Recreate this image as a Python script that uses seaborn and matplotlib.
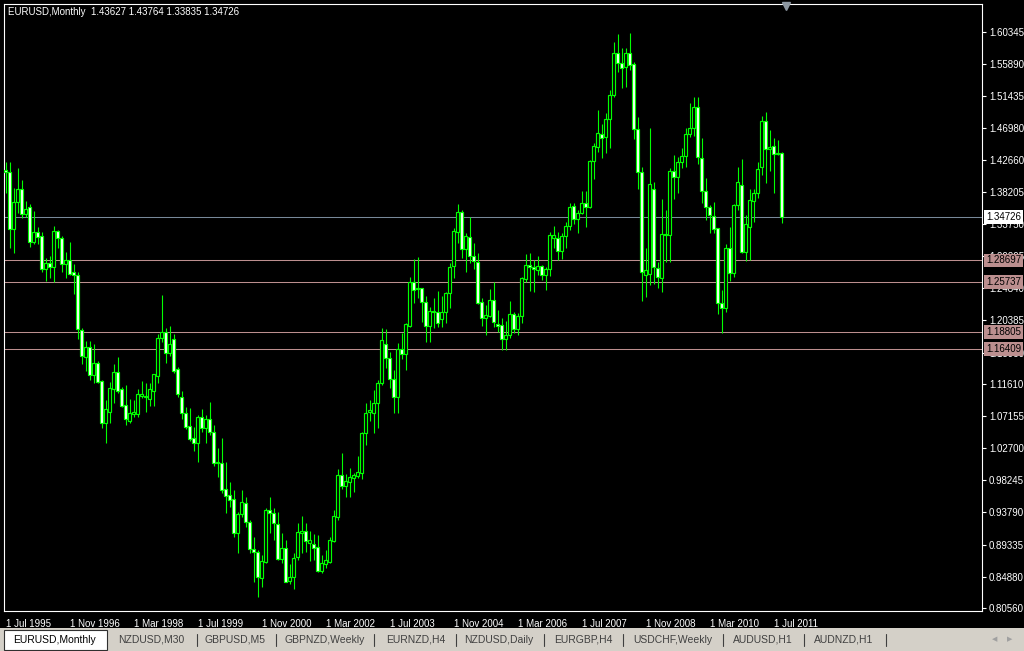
import numpy as np
import pandas as pd
import seaborn as sns
import matplotlib
matplotlib.use("Agg")
import matplotlib.pyplot as plt
from matplotlib.patches import Rectangle
from matplotlib.lines import Line2D

# EURUSD monthly candles, Jul 1995 .. Sep 2011
opens = [
    1.4124, 1.4096, 1.3310, 1.3680, 1.3856, 1.3510, 1.3607, 1.3122, 1.3261, 1.3205,
    1.2748, 1.2831, 1.2784, 1.3279, 1.3178, 1.2818, 1.2873, 1.2711, 1.2665, 1.1903,
    1.1538, 1.1668, 1.1284, 1.1446, 1.1197, 1.0615, 1.0776, 1.1090, 1.1322, 1.1086,
    1.0865, 1.0651, 1.0744, 1.0740, 1.0998, 1.0975, 1.0948, 1.1067, 1.1275, 1.1792,
    1.1884, 1.1585, 1.1779, 1.1363, 1.0975, 1.0754, 1.0574, 1.0407, 1.0346, 1.0699,
    1.0546, 1.0671, 1.0499, 1.0069, 1.0061, 0.9701, 0.9618, 0.9563, 0.9100, 0.9355,
    0.9507, 0.9252, 0.8870, 0.8829, 0.8468, 0.8698, 0.9414, 0.9369, 0.9221, 0.8732,
    0.8884, 0.8435, 0.8491, 0.8759, 0.9100, 0.9120, 0.8953, 0.8944, 0.8898, 0.8574,
    0.8667, 0.8698, 0.8985, 0.9313, 0.9899, 0.9747, 0.9807, 0.9853, 0.9890, 0.9931,
    1.0485, 1.0776, 1.0762, 1.0901, 1.1169, 1.1710, 1.1516, 1.1225, 1.0975, 1.1640,
    1.1571, 1.1967, 1.2577, 1.2471, 1.2485, 1.2300, 1.1967, 1.2175, 1.2161, 1.2056,
    1.2161, 1.2416, 1.2798, 1.3269, 1.3546, 1.3025, 1.3200, 1.2937, 1.2845, 1.2291,
    1.2070, 1.2106, 1.2319, 1.1996, 1.1977, 1.1779, 1.1838, 1.2125, 1.1917, 1.2106,
    1.2610, 1.2808, 1.2780, 1.2738, 1.2790, 1.2665, 1.2752, 1.3178, 1.3178, 1.3006,
    1.3205, 1.3348, 1.3625, 1.3441, 1.3524, 1.3662, 1.3607, 1.4248, 1.4446, 1.4622,
    1.4576, 1.4830, 1.5162, 1.5748, 1.5601, 1.5554, 1.5740, 1.5592, 1.4687, 1.4100,
    1.2669, 1.2683, 1.3856, 1.2762, 1.2624, 1.3237, 1.3223, 1.4110, 1.4022, 1.4230,
    1.4317, 1.4618, 1.4701, 1.4992, 1.4286, 1.3837, 1.3607, 1.3486, 1.3316, 1.2277,
    1.2208, 1.3048, 1.2693, 1.3633, 1.3918, 1.2983, 1.3338, 1.3697, 1.3806, 1.4165,
    1.4806, 1.4410, 1.4456, 1.4345, 1.43627,
]
highs = [
    1.4234, 1.4238, 1.3870, 1.4147, 1.3985, 1.3694, 1.3648, 1.3556, 1.3330, 1.3261,
    1.2909, 1.2932, 1.3348, 1.3293, 1.3209, 1.2988, 1.3126, 1.2822, 1.2711, 1.1939,
    1.1755, 1.1755, 1.1714, 1.1478, 1.1210, 1.0938, 1.1183, 1.1437, 1.1534, 1.1114,
    1.1146, 1.0952, 1.0938, 1.1095, 1.1201, 1.1169, 1.1169, 1.1300, 1.1848, 1.2392,
    1.1931, 1.1963, 1.1852, 1.1399, 1.1067, 1.0845, 1.0831, 1.0564, 1.0730, 1.0809,
    1.0730, 1.0906, 1.0592, 1.0269, 1.0408, 1.0084, 0.9807, 0.9692, 0.9380, 0.9692,
    0.9599, 0.9276, 0.9036, 0.8861, 0.8791, 0.9438, 0.9599, 0.9447, 0.9387, 0.9092,
    0.9001, 0.8667, 0.8823, 0.9230, 0.9331, 0.9230, 0.9128, 0.9082, 0.9069, 0.8791,
    0.8861, 0.9045, 0.9414, 0.9982, 1.0208, 0.9913, 0.9992, 0.9931, 1.0162, 1.0499,
    1.0901, 1.0938, 1.1077, 1.1215, 1.1931, 1.1917, 1.1607, 1.1354, 1.1732, 1.1862,
    1.2000, 1.2646, 1.2887, 1.2914, 1.2485, 1.2378, 1.2230, 1.2347, 1.2452, 1.2378,
    1.2438, 1.2831, 1.3316, 1.3653, 1.3570, 1.3247, 1.3477, 1.3117, 1.2978, 1.2347,
    1.2254, 1.2471, 1.2568, 1.2185, 1.2070, 1.2036, 1.2309, 1.2153, 1.2147, 1.2646,
    1.2960, 1.2970, 1.2877, 1.2932, 1.2808, 1.2784, 1.3269, 1.3348, 1.3269, 1.3247,
    1.3408, 1.3671, 1.3671, 1.3570, 1.3833, 1.3833, 1.4262, 1.4502, 1.4955, 1.4757,
    1.4917, 1.5232, 1.5896, 1.6007, 1.5809, 1.5817, 1.6025, 1.5623, 1.4862, 1.4169,
    1.3039, 1.4709, 1.3961, 1.2853, 1.3718, 1.3570, 1.4147, 1.4331, 1.4308, 1.4432,
    1.4701, 1.5047, 1.5130, 1.5130, 1.4563, 1.4009, 1.3639, 1.3685, 1.3324, 1.2462,
    1.3102, 1.3334, 1.3651, 1.4158, 1.4271, 1.3500, 1.3860, 1.3862, 1.4238, 1.4871,
    1.4927, 1.4677, 1.4562, 1.4539, 1.43764,
]
lows = [
    1.3805, 1.3047, 1.2978, 1.3532, 1.3455, 1.3477, 1.3061, 1.3099, 1.3099, 1.2715,
    1.2590, 1.2632, 1.2576, 1.3047, 1.2715, 1.2632, 1.2670, 1.2410, 1.1787, 1.1441,
    1.1340, 1.1215, 1.1169, 1.1178, 1.0555, 1.0338, 1.0615, 1.0901, 1.1039, 1.0845,
    1.0592, 1.0624, 1.0707, 1.0707, 1.0961, 1.0776, 1.0855, 1.0855, 1.1178, 1.1737,
    1.1446, 1.1552, 1.1316, 1.0984, 1.0671, 1.0532, 1.0374, 1.0236, 1.0084, 1.0499,
    1.0338, 1.0450, 1.0023, 0.9876, 0.9646, 0.9369, 0.9452, 0.9045, 0.8823, 0.9322,
    0.9183, 0.8823, 0.8421, 0.8214, 0.8352, 0.8685, 0.9100, 0.9001, 0.8722, 0.8685,
    0.8413, 0.8390, 0.8320, 0.8722, 0.8815, 0.8837, 0.8712, 0.8722, 0.8552, 0.8538,
    0.8607, 0.8676, 0.8976, 0.9276, 0.9701, 0.9599, 0.9590, 0.9668, 0.9853, 0.9844,
    1.0315, 1.0652, 1.0485, 1.0546, 1.1146, 1.1377, 1.1100, 1.0762, 1.0754, 1.1502,
    1.1354, 1.1953, 1.2286, 1.2347, 1.2022, 1.1745, 1.1745, 1.1939, 1.1945, 1.1953,
    1.2009, 1.2208, 1.2632, 1.3117, 1.2900, 1.2715, 1.2831, 1.2752, 1.2268, 1.1963,
    1.1838, 1.2092, 1.1953, 1.1884, 1.1631, 1.1631, 1.1792, 1.1862, 1.1838, 1.2009,
    1.2568, 1.2452, 1.2438, 1.2669, 1.2600, 1.2462, 1.2655, 1.3039, 1.2877, 1.2887,
    1.3039, 1.3293, 1.3376, 1.3247, 1.3510, 1.3338, 1.3593, 1.3995, 1.4377, 1.4294,
    1.4355, 1.4424, 1.5130, 1.5485, 1.5263, 1.5277, 1.5509, 1.4549, 1.3860, 1.2313,
    1.2369, 1.2531, 1.2545, 1.2485, 1.2438, 1.2853, 1.2853, 1.3722, 1.3809, 1.4155,
    1.4169, 1.4585, 1.4599, 1.4202, 1.3662, 1.3431, 1.3247, 1.3247, 1.2129, 1.1870,
    1.2152, 1.2588, 1.2645, 1.3574, 1.2969, 1.2860, 1.2870, 1.3407, 1.3732, 1.4054,
    1.3948, 1.4110, 1.3810, 1.4330, 1.33835,
]
closes = [
    1.4096, 1.3310, 1.3680, 1.3856, 1.3510, 1.3587, 1.3131, 1.3265, 1.3200, 1.2748,
    1.2831, 1.2784, 1.3275, 1.3178, 1.2818, 1.2873, 1.2687, 1.2673, 1.1926, 1.1552,
    1.1668, 1.1284, 1.1446, 1.1191, 1.0624, 1.0809, 1.1100, 1.1322, 1.1067, 1.0855,
    1.0671, 1.0754, 1.0772, 1.1017, 1.1017, 1.0998, 1.1086, 1.1294, 1.1792, 1.1884,
    1.1585, 1.1710, 1.1344, 1.1017, 1.0754, 1.0560, 1.0402, 1.0346, 1.0699, 1.0546,
    1.0671, 1.0499, 1.0069, 1.0079, 0.9692, 0.9613, 0.9557, 0.9100, 0.9355, 0.9521,
    0.9252, 0.8870, 0.8837, 0.8482, 0.8712, 0.9414, 0.9369, 0.9230, 0.8736, 0.8884,
    0.8422, 0.8482, 0.8746, 0.9114, 0.9120, 0.8989, 0.9001, 0.8884, 0.8574, 0.8685,
    0.8722, 0.8999, 0.9332, 0.9899, 0.9747, 0.9816, 0.9867, 0.9899, 0.9945, 1.0485,
    1.0754, 1.0799, 1.0901, 1.1169, 1.1765, 1.1516, 1.1225, 1.0975, 1.1640, 1.1571,
    1.1991, 1.2577, 1.2462, 1.2485, 1.2300, 1.1967, 1.2175, 1.2161, 1.2009, 1.2161,
    1.2416, 1.2776, 1.3279, 1.3538, 1.3025, 1.3209, 1.2937, 1.2863, 1.2286, 1.2070,
    1.2115, 1.2319, 1.2014, 1.1963, 1.1779, 1.1838, 1.2125, 1.1917, 1.2101, 1.2624,
    1.2808, 1.2776, 1.2752, 1.2794, 1.2665, 1.2752, 1.3219, 1.3219, 1.3006, 1.3205,
    1.3344, 1.3615, 1.3445, 1.3532, 1.3662, 1.3607, 1.4248, 1.4456, 1.4632, 1.4563,
    1.4830, 1.5162, 1.5748, 1.5601, 1.5532, 1.5740, 1.5578, 1.4687, 1.4100, 1.2715,
    1.2738, 1.3930, 1.2784, 1.2646, 1.3237, 1.3223, 1.4110, 1.4022, 1.4230, 1.4317,
    1.4618, 1.4701, 1.4992, 1.4308, 1.3837, 1.3607, 1.3500, 1.3302, 1.2277, 1.2208,
    1.3048, 1.2693, 1.3633, 1.3953, 1.2983, 1.3372, 1.3708, 1.3801, 1.4133, 1.4798,
    1.4410, 1.4446, 1.4345, 1.4363, 1.34726,
]

levels = [1.28697, 1.25737, 1.18805, 1.16409]
last_price = 1.34726
price_ticks = [1.60345, 1.55890, 1.51435, 1.46980, 1.42660, 1.38205, 1.33750,
               1.29295, 1.24840, 1.20385, 1.15930, 1.11610, 1.07155, 1.02700,
               0.98245, 0.93790, 0.89335, 0.84880, 0.80560]
date_labels = ["1 Jul 1995", "1 Nov 1996", "1 Mar 1998", "1 Jul 1999", "1 Nov 2000",
               "1 Mar 2002", "1 Jul 2003", "1 Nov 2004", "1 Mar 2006", "1 Jul 2007",
               "1 Nov 2008", "1 Mar 2010", "1 Jul 2011"]
tabs = ["EURUSD,Monthly", "NZDUSD,M30", "GBPUSD,M5", "GBPNZD,Weekly", "EURNZD,H4",
        "NZDUSD,Daily", "EURGBP,H4", "USDCHF,Weekly", "AUDUSD,H1", "AUDNZD,H1"]
title = "EURUSD,Monthly  1.43627 1.43764 1.33835 1.34726"

LIME = "#00FF00"
LEVEL_C = "#BC8F8F"
LAST_C = "#778899"

sns.set_theme(style="dark", rc={
    "figure.facecolor": "black",
    "axes.facecolor": "black",
    "axes.edgecolor": "white",
    "axes.linewidth": 0.8,
    "axes.grid": False,
    "text.color": "white",
    "xtick.color": "white",
    "ytick.color": "white",
})
plt.rcParams["font.family"] = ["Liberation Sans", "DejaVu Sans"]

W, H = 1024, 651
fig = plt.figure(figsize=(W / 100, H / 100), dpi=100)
ax = fig.add_axes([4 / W, 40 / H, 978 / W, 607 / H])

df = pd.DataFrame({"open": opens, "high": highs, "low": lows, "close": closes})
df["month"] = pd.date_range("1995-07-01", periods=len(df), freq="MS")
x = np.arange(len(df))
bull = df["close"] >= df["open"]

# support / resistance lines behind the candles
for lv in levels:
    ax.axhline(lv, color=LEVEL_C, lw=0.75, zorder=1)
ax.axhline(last_price, color=LAST_C, lw=0.75, zorder=1)

# wicks and bodies, ~1px outlines
ax.vlines(x, df["low"], df["high"], color=LIME, lw=0.8, zorder=2)
body_lo = np.minimum(df["open"], df["close"])
body_h = np.maximum((df["close"] - df["open"]).abs(), 0.0006)
ax.bar(x, body_h, bottom=body_lo, width=0.6,
       color=np.where(bull, "black", "white"), edgecolor=LIME,
       linewidth=0.85, zorder=3)

ax.set_xlim(-0.375, 244.125)
ax.set_ylim(0.80144, 1.64223)

# price axis on the right
ax.yaxis.tick_right()
ax.set_yticks(price_ticks)
ax.set_yticklabels([f"{t:.5f}" for t in price_ticks])
ax.tick_params(axis="y", direction="out", length=3, width=0.8, pad=2,
               labelsize=7, colors="white")

# date axis
dates = pd.to_datetime(date_labels, format="%d %b %Y")
date_pos = [int(np.where(df["month"] == d)[0][0]) for d in dates]
ax.set_xticks(date_pos)
ax.set_xticklabels(date_labels)
ax.tick_params(axis="x", direction="out", length=4, width=0.8, pad=2,
               labelsize=7, colors="white")
for lab in ax.get_xticklabels():
    lab.set_horizontalalignment("left")

for sp in ax.spines.values():
    sp.set_color("white")
    sp.set_linewidth(0.8)

# price tags for the horizontal lines
ytf = ax.get_yaxis_transform()
for lv in levels:
    ax.annotate(f"{lv:.5f}", xy=(1.0, lv), xycoords=ytf, xytext=(3, 0),
                textcoords="offset points", ha="left", va="center",
                fontsize=7, color="black", annotation_clip=False, zorder=6,
                bbox=dict(boxstyle="square,pad=0.18", fc=LEVEL_C, ec="none"))
ax.annotate(f"{last_price:.5f}", xy=(1.0, last_price), xycoords=ytf, xytext=(3, 0),
            textcoords="offset points", ha="left", va="center",
            fontsize=7, color="black", annotation_clip=False, zorder=6,
            bbox=dict(boxstyle="square,pad=0.18", fc="white", ec="none"))

# chart header
fig.text(8 / W, 1 - 12 / H, title, fontsize=7, color="white", ha="left", va="center")

# chart shift marker
fig.add_artist(Line2D([786 / W], [1 - 6 / H], marker="v", ms=6, color="#8C96A0",
                      transform=fig.transFigure))

# tab bar at the bottom
fig.add_artist(Rectangle((0, 0), 1, 23 / H, transform=fig.transFigure,
                         fc="#D4D0C8", ec="none"))
fig.add_artist(Rectangle((4 / W, 1 / H), 103 / W, 20 / H, transform=fig.transFigure,
                         fc="white", ec="#303030", lw=0.8))
tab_x = [55, 151, 235, 325, 416, 499, 583, 673, 763, 844]
sep_x = [197, 276, 374, 456, 544, 623, 723, 804, 886]
for tx, name in zip(tab_x, tabs):
    fig.text(tx / W, 11 / H, name, fontsize=7.5, ha="center", va="center",
             color="black" if name == tabs[0] else "#404040")
for sx in sep_x:
    fig.add_artist(Line2D([sx / W, sx / W], [5 / H, 17 / H], color="#404040",
                          lw=0.8, transform=fig.transFigure))
fig.text(995 / W, 11 / H, "◀", fontsize=5, color="#A0A0A0", ha="center", va="center")
fig.text(1010 / W, 11 / H, "▶", fontsize=5, color="#A0A0A0", ha="center", va="center")

fig.savefig("out.png", dpi=100, facecolor="black")
